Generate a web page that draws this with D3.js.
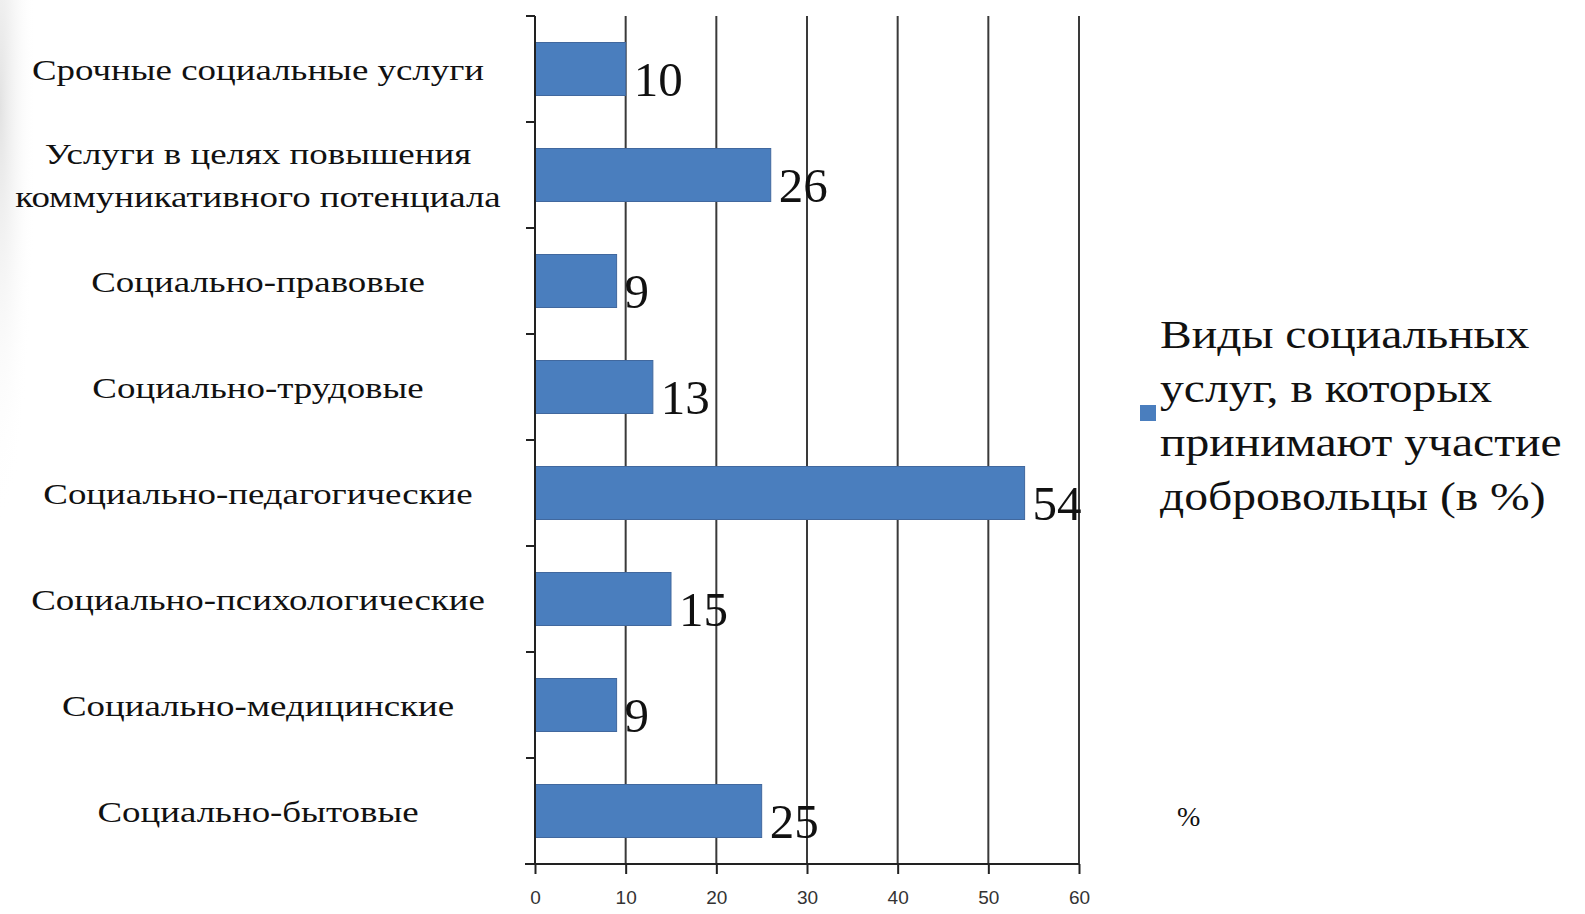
<!DOCTYPE html>
<html>
<head>
<meta charset="utf-8">
<script src="https://cdn.jsdelivr.net/npm/d3@7"></script>
<style>
  body { margin: 0; background: #fff; }
  svg text { font-family: "Liberation Serif", "Times New Roman", serif; fill: #111; }
  .tick text { font-family: "Liberation Sans", Arial, sans-serif; fill: #333; }
</style>
</head>
<body>
<script>
// data
var categories = [
  "Срочные социальные услуги",
  "Услуги в целях повышения|коммуникативного потенциала",
  "Социально-правовые",
  "Социально-трудовые",
  "Социально-педагогические",
  "Социально-психологические",
  "Социально-медицинские",
  "Социально-бытовые"
];
var values = [10, 26, 9, 13, 54, 15, 9, 25];
var xTicks = [0, 10, 20, 30, 40, 50, 60];
var legendLines = ["Виды социальных", "услуг, в которых", "принимают участие", "добровольцы (в %)"];

(function () {
  var w = 1585, h = 914;
  var pLeft = 535, pRight = 1079, pTop = 16, pBottom = 864;

  var svg = d3.select("body").append("svg").attr("width", w).attr("height", h);

  // faint slide shadow on the left edge
  var grad = svg.append("defs").append("radialGradient")
    .attr("id", "shade").attr("cx", "0").attr("cy", "0.15").attr("r", "0.6");
  grad.append("stop").attr("offset", "0").attr("stop-color", "#e2e2e2");
  grad.append("stop").attr("offset", "1").attr("stop-color", "#fff").attr("stop-opacity", 0);
  svg.append("rect").attr("x", 0).attr("y", 0).attr("width", 60).attr("height", 700)
    .attr("fill", "url(#shade)");

  var x = d3.scaleLinear().domain([0, 60]).range([pLeft, pRight]);
  var y = d3.scaleBand().domain(d3.range(categories.length)).range([pTop, pBottom])
    .paddingInner(0.5).paddingOuter(0.25);

  // vertical gridlines
  svg.selectAll("line.grid").data(xTicks.slice(1)).enter().append("line")
    .attr("class", "grid")
    .attr("x1", d => x(d)).attr("x2", d => x(d))
    .attr("y1", pTop).attr("y2", pBottom)
    .attr("stroke", "#3a3a3a").attr("stroke-width", 2);

  // bars
  svg.selectAll("rect.bar").data(values).enter().append("rect")
    .attr("class", "bar")
    .attr("x", x(0))
    .attr("y", (d, i) => y(i))
    .attr("width", d => x(d) - x(0))
    .attr("height", y.bandwidth())
    .attr("fill", "#4a7ebe")
    .attr("stroke", "#41689e").attr("stroke-width", 1);

  // value labels
  svg.selectAll("text.val").data(values).enter().append("text")
    .attr("class", "val")
    .attr("x", d => x(d) + 8)
    .attr("y", (d, i) => y(i) + y.bandwidth() / 2 + 27)
    .attr("font-size", 49)
    .text(d => d);

  // x axis
  var xAxis = svg.append("g").attr("transform", "translate(0," + pBottom + ")")
    .call(d3.axisBottom(x).tickValues(xTicks).tickSize(10).tickPadding(17));
  xAxis.select(".domain").attr("d", "M" + (pLeft - 10) + ",0H" + pRight)
    .attr("stroke", "#222").attr("stroke-width", 2);
  xAxis.selectAll(".tick line").attr("stroke", "#222").attr("stroke-width", 2);
  xAxis.selectAll(".tick text").attr("font-size", 19);

  // y axis line with ticks at band edges
  var edges = d3.range(categories.length + 1).map(i => pTop + i * (pBottom - pTop) / categories.length);
  svg.append("line").attr("x1", pLeft).attr("x2", pLeft).attr("y1", pTop).attr("y2", pBottom)
    .attr("stroke", "#222").attr("stroke-width", 2);
  svg.selectAll("line.ytick").data(edges).enter().append("line")
    .attr("x1", pLeft - 9).attr("x2", pLeft).attr("y1", d => d).attr("y2", d => d)
    .attr("stroke", "#222").attr("stroke-width", 2);

  // category labels (reference text is horizontally widened)
  var cl = svg.selectAll("g.cat").data(categories).enter().append("g")
    .attr("class", "cat")
    .attr("transform", (d, i) => "translate(258," + (y(i) + y.bandwidth() / 2) + ") scale(1.23,1)");
  cl.each(function (d) {
    var parts = d.split("|");
    var t = d3.select(this).append("text")
      .attr("text-anchor", "middle")
      .attr("font-size", 30);
    parts.forEach(function (p, k) {
      t.append("tspan").attr("x", 0)
        .attr("dy", k === 0 ? (parts.length === 1 ? 11 : -11) : 43)
        .text(p);
    });
  });

  // legend
  svg.append("rect").attr("x", 1140).attr("y", 405).attr("width", 16).attr("height", 16).attr("fill", "#4a7ebe");
  svg.selectAll("text.leg").data(legendLines).enter().append("text")
    .attr("class", "leg")
    .attr("transform", (d, i) => "translate(1160," + (348 + i * 54) + ") scale(1.19,1)")
    .attr("font-size", 40)
    .text(d => d);

  svg.append("text").attr("x", 1177).attr("y", 826).attr("font-size", 28).text("%");
})();
</script>
</body>
</html>
